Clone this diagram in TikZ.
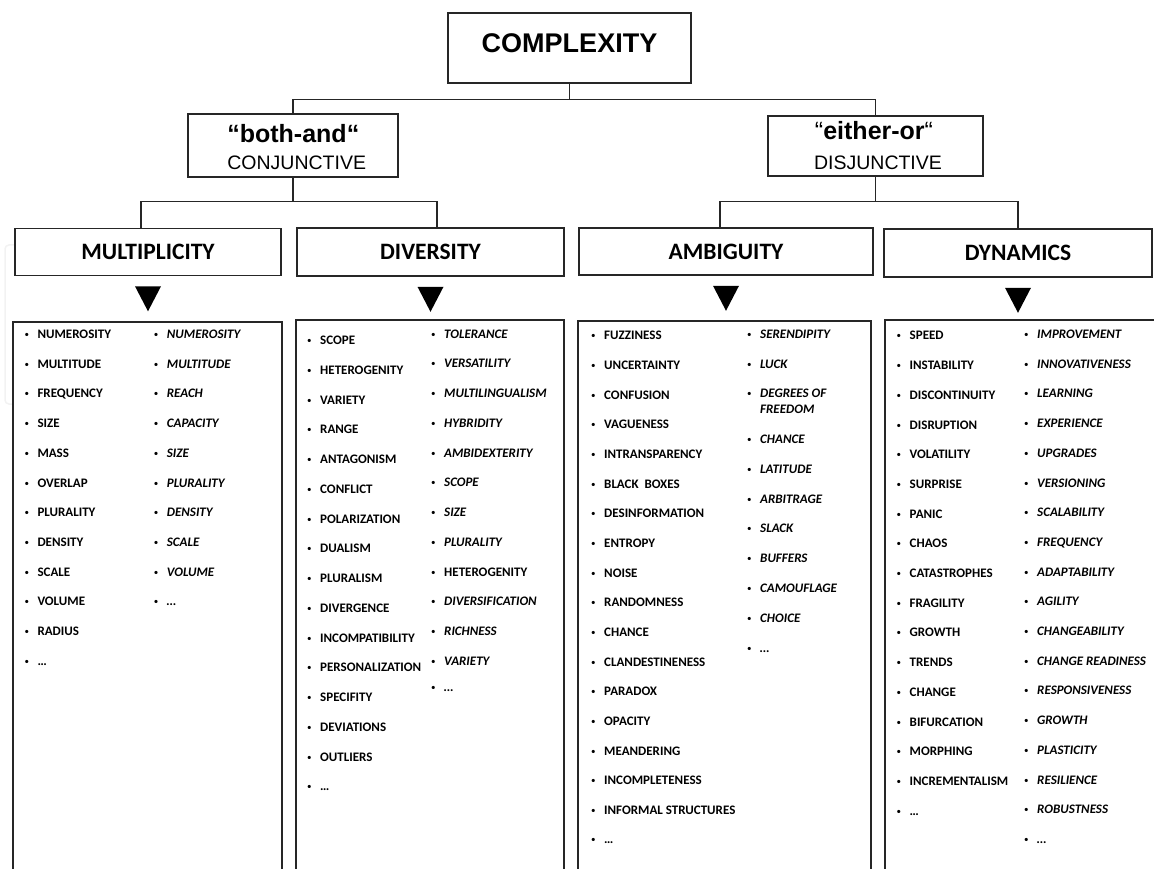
\documentclass[tikz,border=0pt]{standalone}
\usepackage{fontspec}
\setmainfont{Carlito}
\newfontfamily\arialfont{Liberation Sans}
\usetikzlibrary{calc}

\newcommand{\bul}{\makebox[14pt][l]{\hspace{1pt}\raisebox{1pt}{\fontsize{9}{9}\selectfont\mdseries\upshape •}}}

\begin{document}
\begin{tikzpicture}[x=1pt, y=-1pt,
    box/.style={draw=black!85, line width=1.6pt, fill=white, inner sep=0pt},
    link/.style={draw=black!85, line width=1.2pt},
    panel/.style={draw=black!85, line width=1.6pt},
    head/.style={box, font=\fontsize{23.5}{25}\selectfont\bfseries},
    item/.style={anchor=base west, inner sep=0pt, font=\fontsize{13}{15}\selectfont\bfseries},
    itemit/.style={anchor=base west, inner sep=0pt, font=\fontsize{13}{15}\selectfont\bfseries\itshape}]
\useasboundingbox (0,0) rectangle (1154,869);

% faint trace at the left edge
\draw[black!5, line width=1.5pt, rounded corners=4pt] (15,245) -- (5,245) -- (5,404) -- (13,404);

% Top of the tree
\node[box, minimum width=243, minimum height=70, text depth=9pt,
      font=\arialfont\fontsize{27}{29}\selectfont\bfseries] (cx) at (569.5,48) {COMPLEXITY};

\node[box, minimum width=210, minimum height=63] (both) at (293,145.5) {};
\node[anchor=base, inner sep=0pt, font=\arialfont\fontsize{25}{27}\selectfont\bfseries] (bothA) at (293.3,143) {“both-and“};
\node[anchor=base, inner sep=0pt, font=\arialfont\fontsize{19.5}{21}\selectfont] (bothB) at (296.7,170) {CONJUNCTIVE};

\node[box, minimum width=215, minimum height=60] (either) at (875.5,146) {};
\node[anchor=base, inner sep=0pt, font=\arialfont\fontsize{25}{27}\selectfont\bfseries] (eitherA) at (874,140) {{\mdseries “}either-or{\mdseries “}};
\node[anchor=base, inner sep=0pt, font=\arialfont\fontsize{19.5}{21}\selectfont] (eitherB) at (878,170) {DISJUNCTIVE};

% Four dimensions
\node[head, minimum width=266, minimum height=47] (mult) at (148,252) {MULTIPLICITY};
\node[head, minimum width=267, minimum height=48] (div) at (430.5,252) {DIVERSITY};
\node[head, minimum width=294, minimum height=47] (amb) at (726,251.5) {AMBIGUITY};
\node[head, minimum width=268, minimum height=48] (dyn) at (1018,253) {DYNAMICS};

% Connectors
\draw[link] (cx.south) -- ++(0,16) -| (both.north);
\draw[link] (cx.south) -- ++(0,16) -| (either.north);
\draw[link] (both.south) -- ++(0,24) -| ($(mult.north)+(-7,0)$);
\draw[link] (both.south) -- ++(0,24) -| ($(div.north)+(6.5,0)$);
\draw[link] (either.south) -- ++(0,25) -| ($(amb.north)+(-6,0)$);
\draw[link] (either.south) -- ++(0,25) -| (dyn.north);

% Triangles under the dimensions
\foreach \n in {mult, div, amb, dyn} {
    \fill[black] ($(\n.south)+(-13,10)$) -- ++(26,0) -- ++(-13,25) -- cycle;
}

% List panels
\draw[panel] (13,322) rectangle (282,880);
\draw[panel] (296,320) rectangle (564,880);
\draw[panel] (578,321) rectangle (871,880);
\draw[panel] (885,320) rectangle (1162,880);

% Multiplicity
\foreach \w [count=\i from 0] in {NUMEROSITY, MULTITUDE, FREQUENCY, SIZE, MASS, OVERLAP, PLURALITY, DENSITY, SCALE, VOLUME, RADIUS, …} {
    \pgfmathsetmacro{\y}{334.3 + 29.7*\i + 4.2}
    \node[item] (mulL\i) at (23.3,\y) {\bul\w};
}
\foreach \w [count=\i from 0] in {NUMEROSITY, MULTITUDE, REACH, CAPACITY, SIZE, PLURALITY, DENSITY, SCALE, VOLUME, …} {
    \pgfmathsetmacro{\y}{334.3 + 29.7*\i + 4.2}
    \node[itemit] (mulR\i) at (152.7,\y) {\bul\w};
}

% Diversity
\foreach \w [count=\i from 0] in {SCOPE, HETEROGENITY, VARIETY, RANGE, ANTAGONISM, CONFLICT, POLARIZATION, DUALISM, PLURALISM, DIVERGENCE, INCOMPATIBILITY, PERSONALIZATION, SPECIFITY, DEVIATIONS, OUTLIERS, …} {
    \pgfmathsetmacro{\y}{340.4 + 29.75*\i + 4.2}
    \node[item] (divL\i) at (306,\y) {\bul\w};
}
\foreach \w [count=\i from 0] in {TOLERANCE, VERSATILITY, MULTILINGUALISM, HYBRIDITY, AMBIDEXTERITY, SCOPE, SIZE, PLURALITY, \upshape HETEROGENITY, DIVERSIFICATION, RICHNESS, VARIETY} {
    \pgfmathsetmacro{\y}{333.9 + 29.75*\i + 4.2}
    \node[itemit] (divR\i) at (430,\y) {\bul\w};
}
\node[itemit] (divRdots) at (430,691.2) {\bul…};

% Ambiguity
\foreach \w [count=\i from 0] in {FUZZINESS, UNCERTAINTY, CONFUSION, VAGUENESS, INTRANSPARENCY, BLACK\ \ BOXES, DESINFORMATION, ENTROPY, NOISE, RANDOMNESS, CHANCE, CLANDESTINENESS, PARADOX, OPACITY, MEANDERING, INCOMPLETENESS, INFORMAL STRUCTURES, …} {
    \pgfmathsetmacro{\y}{335.7 + 29.65*\i + 4.2}
    \node[item] (ambL\i) at (590,\y) {\bul\w};
}
\foreach \w [count=\i from 0] in {SERENDIPITY, LUCK, DEGREES OF} {
    \pgfmathsetmacro{\y}{334.3 + 29.5*\i + 4.2}
    \node[itemit] (ambR\i) at (746,\y) {\bul\w};
}
\node[itemit] (ambRfree) at (760,413.5) {FREEDOM};
\foreach \w [count=\i from 0] in {CHANCE, LATITUDE, ARBITRAGE, SLACK, BUFFERS, CAMOUFLAGE, CHOICE, …} {
    \pgfmathsetmacro{\y}{439.3 + 29.8*\i + 4.2}
    \node[itemit] (ambS\i) at (746,\y) {\bul\w};
}

% Dynamics
\foreach \w [count=\i from 0] in {SPEED, INSTABILITY, DISCONTINUITY, DISRUPTION, VOLATILITY, SURPRISE, PANIC, CHAOS, CATASTROPHES, FRAGILITY, GROWTH, TRENDS, CHANGE, BIFURCATION, MORPHING, INCREMENTALISM, …} {
    \pgfmathsetmacro{\y}{335.7 + 29.7*\i + 4.2}
    \node[item] (dynL\i) at (895.5,\y) {\bul\w};
}
\foreach \w [count=\i from 0] in {IMPROVEMENT, INNOVATIVENESS, LEARNING, EXPERIENCE, UPGRADES, VERSIONING, SCALABILITY, FREQUENCY, ADAPTABILITY, AGILITY, CHANGEABILITY, CHANGE READINESS, RESPONSIVENESS, GROWTH, PLASTICITY, RESILIENCE, ROBUSTNESS, …} {
    \pgfmathsetmacro{\y}{334.3 + 29.7*\i + 4.2}
    \node[itemit] (dynR\i) at (1023,\y) {\bul\w};
}
\end{tikzpicture}
\end{document}
